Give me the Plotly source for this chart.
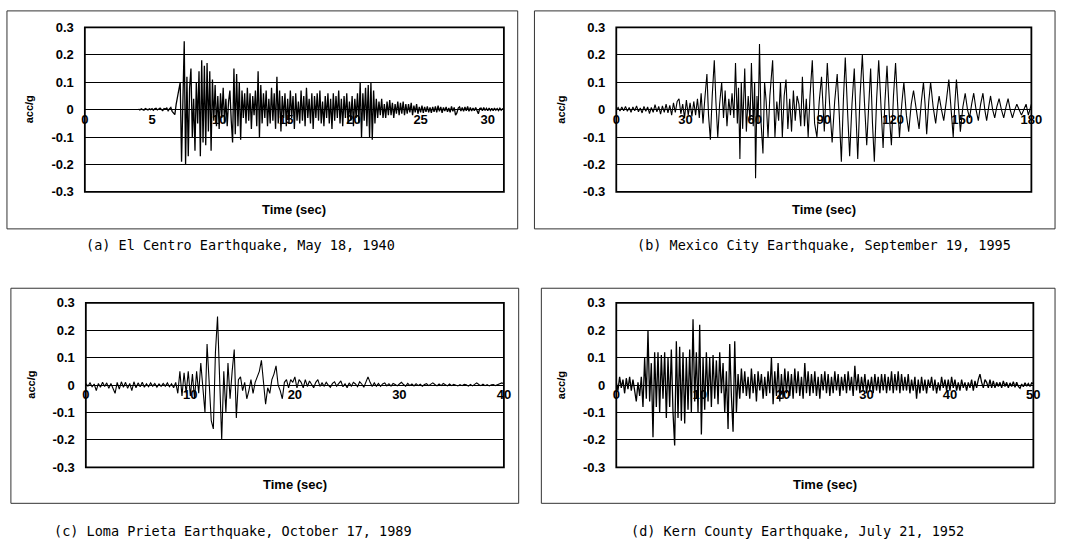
import plotly.graph_objects as go

# ---------------- DATA ----------------
# (a) El Centro, samples every 0.1 s starting at 4.0 s
elcentro_t0 = 4.0
elcentro_dt = 0.1
acc_a = [
    0.002, -0.001, 0.003, 0.001, -0.002, 0.004, 0.002, -0.001, 0.003, 0.000,
    0.004, -0.002, 0.003, 0.005, -0.001, 0.002, 0.006, 0.001, -0.003, 0.004,
    0.002, 0.006, -0.004, 0.003, 0.008, -0.006, -0.012, -0.018, 0.020, 0.050,
    0.080, 0.100, -0.190, 0.050, 0.250, -0.200, 0.120, -0.170, 0.080, 0.150,
    -0.100, 0.040, -0.150, 0.100, -0.050, 0.140, -0.170, 0.180, -0.120, 0.160,
    -0.130, 0.170, -0.080, 0.140, -0.150, 0.110, -0.040, 0.090, -0.060, 0.050,
    -0.070, 0.060, -0.030, 0.080, -0.050, 0.040, -0.060, 0.030, 0.070, -0.040,
    -0.120, 0.150, -0.090, 0.130, -0.060, 0.100, -0.110, 0.070, -0.030, 0.060,
    -0.050, 0.080, -0.040, 0.060, -0.070, 0.050, -0.020, 0.070, -0.060, 0.140,
    -0.100, 0.090, -0.050, 0.060, -0.030, 0.070, -0.060, 0.040, -0.050, 0.080,
    -0.040, 0.060, -0.070, 0.120, -0.050, 0.070, -0.080, 0.050, -0.030, 0.060,
    -0.060, 0.040, -0.050, 0.070, -0.030, 0.050, -0.070, 0.060, -0.040, 0.030,
    -0.050, 0.070, -0.040, 0.050, -0.060, 0.080, -0.030, 0.040, -0.050, 0.060,
    -0.070, 0.050, -0.030, 0.060, -0.040, 0.070, -0.050, 0.030, -0.060, 0.050,
    -0.030, 0.060, -0.050, 0.040, -0.070, 0.060, -0.040, 0.050, -0.030, 0.070,
    -0.050, 0.040, -0.060, 0.050, -0.030, 0.060, -0.050, 0.030, -0.040, 0.050,
    -0.060, 0.040, -0.030, 0.060, -0.050, 0.100, -0.100, 0.060, -0.040, 0.080,
    -0.060, 0.090, -0.100, 0.100, -0.110, 0.070, -0.050, 0.040, -0.030, 0.030,
    -0.020, 0.040, -0.030, 0.020, -0.030, 0.030, -0.020, 0.035, -0.020, 0.025,
    -0.030, 0.020, -0.015, 0.030, -0.020, 0.025, -0.015, 0.030, -0.020, 0.020,
    -0.015, 0.020, -0.010, 0.025, -0.020, 0.015, -0.010, 0.020, -0.015, 0.010,
    -0.010, 0.015, -0.012, 0.010, -0.008, 0.012, -0.010, 0.008, -0.012, 0.010,
    -0.008, 0.012, -0.010, 0.015, -0.006, 0.010, -0.012, 0.008, -0.005, 0.010,
    -0.008, 0.006, -0.010, 0.012, -0.006, 0.008, -0.020, -0.012, 0.006, 0.010,
    -0.005, 0.008, -0.006, 0.010, -0.004, 0.012, -0.006, 0.008, -0.005, 0.006,
    -0.004, 0.008, -0.006, -0.015, 0.004, 0.006, -0.004, 0.008, -0.003, 0.005,
    -0.004, 0.006, -0.003, 0.005, -0.004, 0.006, -0.002, 0.004, -0.003, 0.005,
    -0.002, 0.003, 0.000,
]

# (b) Mexico City, peaks / troughs
time_b = [
    0.0, 0.8, 1.6, 2.4, 3.2, 4.0, 4.8, 5.6, 6.4, 7.2,
    8.0, 8.8, 9.6, 10.4, 11.2, 12.0, 12.8, 13.6, 14.4, 15.2,
    16.0, 16.8, 17.6, 18.4, 19.2, 20.0, 20.8, 21.6, 22.4, 23.2,
    24.0, 24.8, 25.6, 26.4, 27.2, 28.0, 28.8, 29.6, 30.4, 31.2,
    32.0, 32.8, 33.6, 34.4, 35.2, 36.0,
    36.8, 37.6, 38.4, 39.3, 40.0, 40.8, 41.6, 42.5, 43.2, 44.0,
    44.8, 45.7, 46.5, 47.2, 48.0, 48.8, 49.5, 50.2, 51.0, 51.7,
    52.5, 53.0, 53.6, 54.2, 54.8, 55.7, 56.4, 57.2, 58.0, 58.6,
    59.4, 60.0, 60.4, 61.0, 61.5, 62.1, 62.8, 63.6, 64.3, 65.0,
    65.8, 66.6, 67.8, 68.8, 69.6, 70.4, 71.2, 72.0, 72.8, 73.6,
    74.4, 75.2, 76.0, 76.8, 77.6, 78.4, 79.2, 80.0, 80.7, 81.6,
    82.4, 83.2, 84.0, 85.0, 86.0, 87.0, 88.0, 89.0, 90.2, 91.5,
    92.5, 93.6, 94.7, 95.8, 96.7, 97.6, 98.5, 99.3, 100.2, 101.2,
    102.2, 103.2, 104.0, 104.7, 105.7, 106.7, 107.6, 108.6, 109.5, 110.3,
    111.1, 111.9, 112.9, 113.8, 114.8, 115.7, 116.5, 117.4, 118.4, 119.3,
    120.2, 121.1, 122.0, 122.8, 123.8, 124.7, 125.8, 126.8, 127.9, 128.9,
    130.1, 131.3, 132.3, 133.2, 133.9, 134.6, 135.5, 136.3, 137.4, 138.5,
    139.3, 140.0, 141.0, 142.0, 143.1, 144.2, 145.2, 146.1, 146.8, 147.5,
    148.4, 149.2, 150.3, 151.3, 152.3, 153.2, 154.1, 155.0, 156.0, 157.0,
    158.0, 159.0, 159.8, 160.6, 161.5, 162.3, 163.2, 164.1, 165.0, 166.0,
    167.0, 168.0, 169.0, 169.9, 170.8, 171.8, 172.8, 173.7, 174.7, 175.7,
    176.7, 177.7, 178.7, 180.0,
]
acc_b = [
    0.0, 0.008, -0.005, 0.01, -0.004, 0.012, -0.006, 0.008, -0.01, 0.01,
    -0.004, 0.014, -0.008, 0.006, -0.012, 0.012, -0.006, 0.01, -0.014, 0.008,
    -0.01, 0.018, -0.008, 0.012, -0.016, 0.014, -0.01, 0.02, -0.012, 0.016,
    -0.02, 0.025, -0.01, 0.03, 0.04, -0.015, 0.02, -0.03, 0.035, -0.02,
    0.025, -0.025, 0.03, -0.02, 0.04, -0.03,
    0.06, -0.05, 0.04, 0.13, -0.02, -0.11, 0.05, 0.18, 0.03, -0.10,
    0.02, 0.10, -0.03, 0.07, -0.06, 0.04, -0.02, 0.06, -0.03, 0.17,
    -0.05, 0.08, -0.18, 0.10, -0.07, 0.15, -0.08, 0.05, -0.04, 0.17,
    -0.06, 0.10, -0.25, 0.05, -0.05, 0.24, -0.05, -0.16, 0.10, 0.03,
    -0.10, 0.05, 0.18, -0.10, 0.03, -0.04, 0.10, -0.10, 0.05, 0.11,
    -0.07, 0.04, -0.08, 0.07, -0.04, 0.05, 0.02, -0.06, 0.12, -0.06,
    0.04, -0.10, 0.05, 0.18, -0.05, -0.10, 0.03, 0.12, -0.08, 0.17,
    0.02, -0.12, 0.03, 0.13, -0.02, -0.19, 0.04, 0.19, 0.01, -0.17,
    0.02, 0.15, -0.03, -0.18, 0.05, 0.20, 0.03, -0.13, 0.02, 0.15,
    -0.05, -0.19, 0.04, 0.18, 0.01, -0.14, 0.03, 0.16, -0.02, -0.13,
    0.05, 0.17, 0.02, -0.10, 0.02, 0.10, -0.02, -0.08, 0.02, 0.07,
    0.00, -0.07, 0.03, 0.10, 0.02, -0.09, 0.03, 0.10, 0.01, -0.05,
    0.01, 0.05, 0.00, -0.04, 0.03, 0.11, 0.00, -0.10, 0.02, 0.11,
    0.01, -0.08, 0.01, 0.06, 0.00, -0.03, 0.02, 0.06, 0.00, -0.04,
    0.02, 0.06, 0.00, -0.04, 0.01, 0.05, 0.00, -0.03, 0.01, 0.04,
    0.00, -0.03, 0.01, 0.04, 0.00, -0.03, 0.00, 0.02, 0.00, -0.02,
    0.00, 0.02, -0.02, 0.02,
]

# (c) Loma Prieta, samples every 0.2 s from 0 s
lomaprieta_dt = 0.2
acc_c = [
    0.005, -0.004, 0.008, -0.006, 0.004, -0.02, 0.006, -0.008, 0.01, -0.005,
    0.008, -0.012, 0.006, -0.01, -0.03, 0.01, -0.015, 0.012, -0.008, 0.01,
    -0.012, 0.006, -0.02, 0.012, -0.01, 0.008, -0.006, 0.01, -0.008, 0.005,
    -0.006, 0.008, -0.004, 0.006, -0.008, 0.004, -0.005, 0.006, -0.004, 0.008,
    -0.006, 0.005, -0.01, 0.01, -0.03, 0.05, -0.04, 0.045, -0.03, 0.05,
    -0.04, 0.04, -0.05, 0.05, -0.03, 0.08, -0.02, -0.10, 0.15, 0.02,
    -0.13, -0.16, 0.12, 0.25, 0.05, -0.20, 0.05, -0.10, 0.08, -0.05,
    0.05, 0.13, -0.12, 0.02, 0.03, -0.02, 0.01, -0.05, -0.02, 0.02,
    -0.03, 0.01, 0.03, 0.05, 0.09, 0.01, -0.07, -0.01, -0.03, 0.02,
    0.04, 0.07, 0.00, -0.02, -0.05, 0.01, 0.02, -0.01, 0.02, 0.01,
    0.03, -0.01, 0.02, 0.01, -0.01, 0.02, -0.005, 0.015, 0.0, -0.01,
    0.01, 0.02, -0.005, 0.008, -0.004, 0.01, 0.0, -0.008, 0.006, 0.012,
    -0.004, 0.008, 0.015, -0.006, 0.005, -0.01, 0.008, -0.004, 0.01, 0.004,
    -0.006, 0.012, 0.004, -0.008, 0.015, 0.03, 0.01, -0.005, 0.008, -0.004,
    0.006, -0.005, 0.004, 0.008, -0.003, 0.005, -0.004, 0.006, 0.002, -0.003,
    0.004, 0.01, 0.002, -0.004, 0.006, -0.002, 0.004, -0.003, 0.005, -0.002,
    0.003, -0.004, 0.002, 0.005, -0.002, 0.003, 0.008, 0.002, -0.003, 0.004,
    -0.002, 0.006, 0.002, -0.003, 0.004, -0.002, 0.003, 0.001, -0.003, 0.002,
    -0.002, 0.003, 0.001, -0.004, 0.002, -0.003, 0.004, 0.008, 0.002, -0.002,
    0.003, -0.002, 0.002, -0.003, 0.001, 0.002, -0.002, 0.003, 0.005, 0.008,
    0.005,
]

# (d) Kern County, samples every 0.2 s from 0 s
kern_dt = 0.2
acc_d = [
    0.01, -0.02, 0.03, -0.01, 0.02, -0.03, 0.025, -0.015, 0.03, -0.02,
    0.02, -0.03, -0.06, 0.01, -0.04, 0.03, -0.08, 0.10, -0.05, 0.20,
    -0.06, 0.08, -0.19, 0.12, -0.08, 0.12, -0.10, 0.11, -0.05, 0.12,
    -0.12, 0.10, -0.08, 0.13, -0.10, -0.22, 0.16, -0.12, 0.14, -0.13,
    0.12, -0.14, 0.10, -0.09, 0.13, -0.10, 0.24, -0.06, 0.12, -0.10,
    0.22, -0.18, 0.10, -0.09, 0.12, -0.06, 0.10, -0.08, 0.11, -0.05,
    0.09, -0.07, 0.12, -0.03, 0.08, -0.10, 0.05, -0.16, 0.15, -0.04,
    -0.17, 0.16, -0.10, 0.04, -0.05, 0.06, -0.03, 0.05, -0.04, 0.03,
    -0.05, 0.06, -0.03, 0.04, -0.06, 0.05, -0.02, 0.04, -0.05, 0.03,
    -0.04, 0.05, -0.03, 0.10, -0.07, 0.05, -0.04, 0.08, -0.06, 0.04,
    -0.05, 0.06, -0.03, 0.05, -0.04, 0.04, -0.05, 0.06, -0.03, 0.05,
    -0.04, 0.03, -0.05, 0.08, -0.03, 0.05, -0.04, 0.04, -0.03, 0.05,
    -0.04, 0.03, -0.05, 0.04, -0.02, 0.05, -0.03, 0.04, -0.04, 0.03,
    -0.03, 0.05, -0.02, 0.04, -0.04, 0.03, -0.02, 0.04, -0.03, 0.05,
    -0.02, 0.03, -0.04, 0.07, -0.02, 0.04, -0.03, 0.03, -0.02, 0.04,
    -0.03, 0.02, -0.02, 0.03, -0.03, 0.04, -0.02, 0.03, -0.03, 0.04,
    -0.02, 0.04, -0.03, 0.03, -0.02, 0.05, -0.03, 0.04, -0.02, 0.05,
    -0.03, 0.04, -0.02, 0.03, -0.02, 0.04, -0.03, 0.02, -0.02, 0.03,
    -0.05, 0.02, -0.03, 0.03, -0.02, 0.02, -0.03, 0.02, -0.01, 0.03,
    -0.02, 0.02, -0.03, 0.01, -0.02, 0.03, -0.01, 0.02, -0.02, 0.02,
    -0.02, 0.03, -0.01, 0.02, -0.02, 0.01, -0.02, 0.02, -0.01, 0.01,
    -0.02, 0.01, -0.01, 0.02, -0.02, 0.015, -0.01, 0.02, 0.04, 0.01,
    -0.01, 0.02, 0.01, -0.01, 0.02, -0.01, 0.015, -0.01, 0.01, -0.005,
    0.01, -0.01, 0.015, -0.005, 0.01, -0.01, 0.008, -0.005, 0.012, -0.008,
    0.01, -0.005, -0.012, 0.004, -0.006, 0.008, -0.004, 0.006, -0.005, 0.008,
    0.005,
]

time_a = [round(elcentro_t0 + elcentro_dt * i, 2) for i in range(len(acc_a))]
time_c = [round(lomaprieta_dt * i, 2) for i in range(len(acc_c))]
time_d = [round(kern_dt * i, 2) for i in range(len(acc_d))]

x_ticks_a = [0, 5, 10, 15, 20, 25, 30]
x_ticks_b = [0, 30, 60, 90, 120, 150, 180]
x_ticks_c = [0, 10, 20, 30, 40]
x_ticks_d = [0, 10, 20, 30, 40, 50]
y_ticks = [-0.3, -0.2, -0.1, 0, 0.1, 0.2, 0.3]
y_tick_labels = ["-0.3", "-0.2", "-0.1", "0", "0.1", "0.2", "0.3"]

captions = [
    "(a) El Centro Earthquake, May 18, 1940",
    "(b) Mexico City Earthquake, September 19, 1995",
    "(c) Loma Prieta Earthquake, October 17, 1989",
    "(d) Kern County Earthquake, July 21, 1952",
]
x_title = "Time (sec)"
y_title = "acc/g"

# ---------------- LAYOUT ----------------
W, H = 1069, 559


def fx(px):
    return px / W


def fy(py):
    return 1 - py / H


panels = [
    dict(t=time_a, v=acc_a, xmax=31.2, ticks=x_ticks_a, plot=(82, 507, 21, 190),
         box=(3, 521, 4, 228), ylab=25, cap=(240, 245), lw=1.3),
    dict(t=time_b, v=acc_b, xmax=180, ticks=x_ticks_b, plot=(621, 1042, 21, 190),
         box=(538, 1066, 4, 228), ylab=565, cap=(832, 245), lw=1.1),
    dict(t=time_c, v=acc_c, xmax=40, ticks=x_ticks_c, plot=(83, 507, 304, 473),
         box=(7, 522, 289, 510), ylab=27, cap=(232, 538), lw=1.1),
    dict(t=time_d, v=acc_d, xmax=50, ticks=x_ticks_d, plot=(621, 1044, 304, 473),
         box=(545, 1066, 289, 510), ylab=565, cap=(805, 538), lw=1.3),
]

fig = go.Figure()
layout = dict(
    width=W, height=H, margin=dict(l=0, r=0, t=0, b=0),
    paper_bgcolor="white", plot_bgcolor="white", showlegend=False,
    shapes=[], annotations=[],
)
tick_font = dict(family="Liberation Sans, Arial, sans-serif", size=13,
                 color="black", weight="bold")

for i, p in enumerate(panels, start=1):
    n = min(len(p["t"]), len(p["v"]))
    x0, x1, y0, y1 = p["plot"]
    xd = [fx(x0), fx(x1)]
    yd = [fy(y1), fy(y0)]
    xs = "x" if i == 1 else f"x{i}"
    ys = "y" if i == 1 else f"y{i}"
    fig.add_trace(go.Scatter(
        x=p["t"][:n], y=p["v"][:n], mode="lines", xaxis=xs, yaxis=ys,
        line=dict(color="black", width=p["lw"]), hoverinfo="skip",
    ))
    layout["xaxis" + ("" if i == 1 else str(i))] = dict(
        domain=xd, range=[0, p["xmax"]], anchor="free", position=(yd[0] + yd[1]) / 2,
        showline=False, showgrid=False, zeroline=False, ticks="",
        tickmode="array", tickvals=p["ticks"], ticktext=[str(v) for v in p["ticks"]],
        tickfont=tick_font, layer="below traces", fixedrange=True,
    )
    layout["yaxis" + ("" if i == 1 else str(i))] = dict(
        domain=yd, range=[-0.3, 0.3], anchor=xs,
        showline=False, ticks="", tickmode="array", tickvals=y_ticks,
        ticktext=y_tick_labels, tickfont=tick_font, ticklabelstandoff=10,
        showgrid=True, gridcolor="black", gridwidth=1,
        zeroline=True, zerolinecolor="black", zerolinewidth=1, fixedrange=True,
    )
    # outer panel box
    bx0, bx1, by0, by1 = p["box"]
    layout["shapes"].append(dict(
        type="rect", xref="paper", yref="paper", x0=fx(bx0), x1=fx(bx1),
        y0=fy(by1), y1=fy(by0), line=dict(color="#333", width=1),
    ))
    # plot frame
    layout["shapes"].append(dict(
        type="rect", xref="paper", yref="paper", x0=xd[0], x1=xd[1],
        y0=yd[0], y1=yd[1], line=dict(color="black", width=1.8),
    ))
    # axis titles
    layout["annotations"].append(dict(
        text=x_title, xref="paper", yref="paper", x=(xd[0] + xd[1]) / 2,
        y=fy(y1 + 18), showarrow=False, xanchor="center", yanchor="middle",
        font=dict(family="Liberation Sans, Arial, sans-serif", size=13,
                  color="black", weight="bold"),
    ))
    layout["annotations"].append(dict(
        text=y_title, xref="paper", yref="paper", x=fx(p["ylab"]),
        y=(yd[0] + yd[1]) / 2, showarrow=False, textangle=-90,
        xanchor="center", yanchor="middle",
        font=dict(family="Liberation Sans, Arial, sans-serif", size=11,
                  color="black", weight="bold"),
    ))
    # caption
    cx, cy = p["cap"]
    layout["annotations"].append(dict(
        text=captions[i - 1], xref="paper", yref="paper", x=fx(cx), y=fy(cy),
        showarrow=False, xanchor="center", yanchor="middle",
        font=dict(family="DejaVu Sans Mono, Liberation Mono, monospace", size=13.5,
                  color="black"),
    ))

fig.update_layout(**layout)
fig.write_html("out.html")
